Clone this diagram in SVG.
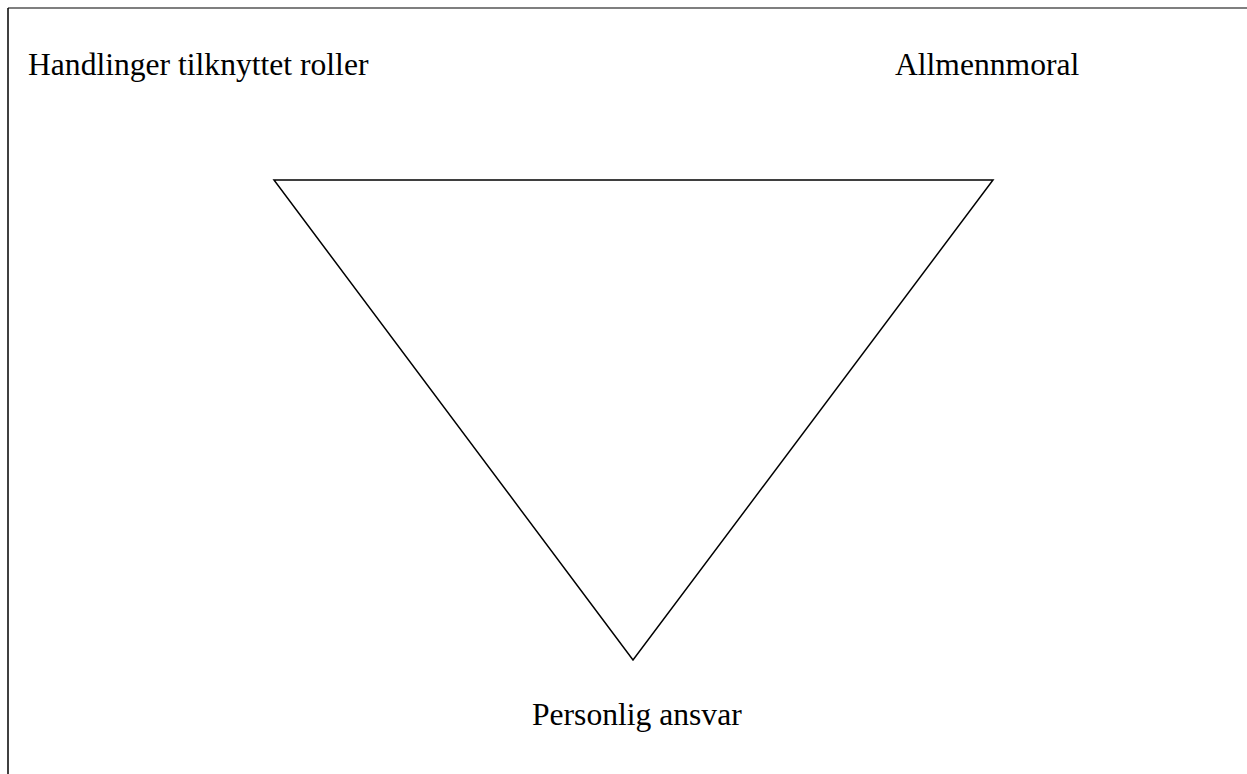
<svg xmlns="http://www.w3.org/2000/svg" width="1247" height="774" viewBox="0 0 1247 774">
<style>
.lbl{font-family:"Liberation Serif","Times New Roman",serif;font-size:31.6px;fill:#000}
.frame{stroke:#555;stroke-width:1.5;fill:none}
.tri{stroke:#000;stroke-width:1.5;fill:#fff}
</style>
<rect width="1247" height="774" fill="#fff"/>
<g id="frame">
<line class="frame" x1="8" y1="8" x2="1247" y2="8"/>
<line class="frame" x1="8" y1="8" x2="8" y2="774" style="stroke:#000"/>
</g>
<g id="triangle">
<polygon class="tri" points="274,180 993,180 633,660"/>
</g>
<g id="label-roller"><text class="lbl" x="28" y="75">Handlinger tilknyttet roller</text></g>
<g id="label-allmenn"><text class="lbl" x="895" y="75">Allmennmoral</text></g>
<g id="label-personlig"><text class="lbl" x="532" y="725">Personlig ansvar</text></g>
</svg>
